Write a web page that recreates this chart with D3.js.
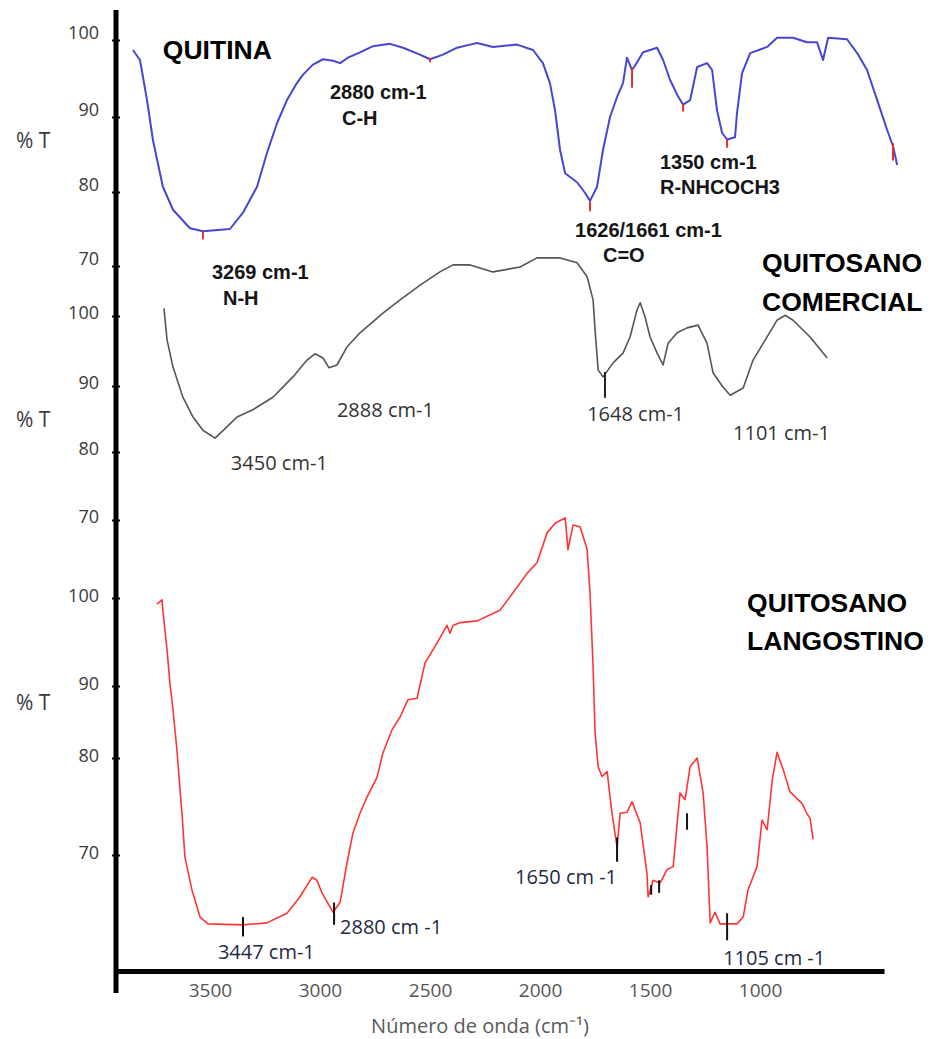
<!DOCTYPE html>
<html>
<head>
<meta charset="utf-8">
<script src="https://cdn.jsdelivr.net/npm/d3@7"></script>
<style>
  body { margin: 0; background: #fff; }
  svg { display: block; }
  .lbl { font-family: "Open Sans", sans-serif; }
  .bold { font-family: "Liberation Sans", Arial, sans-serif; font-weight: bold; }
</style>
</head>
<body>
<div id="chart"></div>
<script>
// x axis (wavenumber, cm-1)
const xTicks = [3500, 3000, 2500, 2000, 1500, 1000];
const yTicks = [100, 90, 80, 70];

// QUITINA (blue)
const quitinaWave = [3850, 3818, 3786, 3759, 3714, 3668, 3591, 3532, 3409, 3350, 3286, 3241, 3195, 3150, 3105, 3077,
  3032, 2986, 2941, 2909, 2873, 2818, 2759, 2682, 2623, 2546, 2500, 2441, 2377, 2318, 2286, 2214, 2105, 2032, 1987,
  1955, 1932, 1909, 1886, 1832, 1796, 1773, 1741, 1714, 1682, 1650, 1623, 1605, 1582, 1559, 1532, 1468, 1441, 1409,
  1377, 1350, 1318, 1286, 1241, 1218, 1196, 1173, 1150, 1114, 1105, 1082, 1045, 968, 923, 850, 787, 741, 714, 691,
  605, 559, 514, 468, 423, 396, 377];
const quitinaT = [98.7, 97.4, 92.2, 86.9, 80.7, 77.6, 75.1, 74.7, 75.0, 77.2, 80.7, 85.2, 89.2, 92.2, 94.4, 95.5,
  96.8, 97.5, 97.3, 97.0, 97.7, 98.4, 99.2, 99.5, 99.0, 98.1, 97.5, 98.1, 99.0, 99.4, 99.6, 99.1, 99.4, 98.7, 97.0,
  94.4, 90.9, 85.6, 82.5, 81.3, 79.9, 78.8, 80.7, 85.6, 90.0, 92.6, 94.4, 97.7, 96.1, 97.1, 98.4, 99.0, 97.4, 94.8,
  92.9, 91.6, 92.2, 96.5, 97.0, 96.1, 90.9, 87.9, 87.0, 87.3, 90.5, 95.7, 98.3, 99.1, 100.3, 100.3, 99.7, 99.7, 97.4, 100.3,
  100.1, 98.3, 96.1, 92.2, 88.3, 86.1, 83.6];
// red peak marks: [wavenumber, top %T, bottom %T]
const quitinaMarks = [[3532, 74.7, 73.6], [2500, 97.7, 97.1], [1773, 78.8, 77.4], [1582, 96.4, 93.8],
  [1350, 91.7, 90.7], [1150, 87.0, 85.9], [396, 86.5, 84.2]];
const quitinaLabels = [
  {text: "2880 cm-1", w: 2955, t: 93.2}, {text: "C-H", w: 2900, t: 89.9},
  {text: "3269 cm-1", w: 3491, t: 69.2}, {text: "N-H", w: 3441, t: 65.7},
  {text: "1626/1661 cm-1", w: 1841, t: 74.9}, {text: "C=O", w: 1714, t: 71.5},
  {text: "1350 cm-1", w: 1455, t: 84.0}, {text: "R-NHCOCH3", w: 1455, t: 80.7}
];

// QUITOSANO COMERCIAL (gray)
const comercialWave = [3709, 3695, 3668, 3623, 3577, 3532, 3477, 3423, 3377, 3305, 3214, 3123, 3059, 3023, 2986,
  2959, 2923, 2877, 2818, 2714, 2636, 2545, 2455, 2395, 2318, 2214, 2091, 2014, 1909, 1832, 1786, 1759, 1750, 1736,
  1714, 1668, 1623, 1591, 1559, 1545, 1523, 1500, 1468, 1441, 1418, 1377, 1332, 1282, 1241, 1214, 1168, 1136, 1077,
  1032, 986, 923, 886, 850, 773, 695];
const comercialT = [101.1, 96.6, 92.7, 88.3, 85.3, 83.3, 82.1, 83.8, 85.3, 86.4, 88.3, 91.3, 93.7, 94.6, 94.0,
  92.6, 93.0, 95.6, 97.6, 100.4, 102.3, 104.4, 106.3, 107.3, 107.3, 106.3, 107.0, 108.3, 108.3, 107.6, 105.6, 102.3, 98.0, 92.3,
  91.3, 93.3, 94.7, 97.0, 100.9, 101.9, 99.9, 97.0, 94.7, 93.0, 96.1, 97.6, 98.3, 98.7, 96.1, 91.9, 89.8, 88.6, 89.7,
  93.7, 96.1, 99.4, 100.1, 99.4, 97.0, 94.0];
const comercialMarks = [[1705, 92.0, 88.2]];
const comercialLabels = [
  {text: "3450 cm-1", w: 3405, t: 78.4}, {text: "2888 cm-1", w: 2923, t: 86.4},
  {text: "1648 cm-1", w: 1786, t: 85.8}, {text: "1101 cm-1", w: 1123, t: 82.9}
];

// QUITOSANO LANGOSTINO (red)
const langostinoWave = [3741, 3718, 3714, 3695, 3682, 3668, 3650, 3636, 3627, 3614, 3582, 3545, 3509, 3350, 3241,
  3150, 3091, 3036, 3014, 2991, 2941, 2909, 2877, 2850, 2818, 2786, 2741, 2714, 2673, 2636, 2600, 2559, 2523, 2468,
  2423, 2409, 2395, 2364, 2286, 2182, 2123, 2059, 2014, 1968, 1932, 1886, 1873, 1850, 1818, 1786, 1773, 1759, 1750,
  1736, 1718, 1695, 1682, 1673, 1650, 1636, 1605, 1582, 1545, 1514, 1509, 1486, 1455, 1423, 1395, 1364, 1341, 1318,
  1286, 1259, 1241, 1227, 1205, 1182, 1105, 1077, 1055, 1014, 991, 968, 945, 923, 895, 864, 809, 786, 773, 759];
const langostinoT = [99.3, 99.8, 98.6, 94.1, 90.3, 86.7, 81.1, 76.7, 74.3, 69.8, 66.4, 63.6, 62.9, 62.8, 63.0,
  64.0, 65.7, 67.7, 67.4, 66.1, 64.1, 65.1, 69.2, 72.3, 74.3, 76.0, 78.0, 80.7, 83.9, 85.7, 88.1, 88.3, 92.6, 94.9,
  96.9, 96.0, 96.9, 97.2, 97.4, 98.6, 100.6, 102.8, 104.0, 107.4, 108.5, 109.1, 105.5, 108.3, 108.1, 105.5, 100.6, 92.2, 83.5,
  79.1, 78.1, 78.6, 76.0, 74.3, 70.8, 74.3, 74.4, 75.5, 73.3, 68.1, 65.7, 67.4, 67.1, 68.5, 68.8, 76.4, 75.7, 79.1,
  80.0, 76.4, 70.8, 63.0, 64.1, 62.9, 62.9, 63.6, 66.4, 68.8, 73.6, 72.6, 77.7, 80.8, 78.8, 76.5, 75.3, 74.2, 73.8, 71.6];
const langostinoMarks = [[3350, 63.6, 61.6], [2936, 65.1, 62.8], [1650, 71.8, 69.3], [1150, 64.0, 61.2],
  [1495, 66.9, 65.9], [1459, 67.4, 66.1], [1332, 74.3, 72.6]];
const langostinoLabels = [
  {text: "3447 cm-1", w: 3464, t: 60.0}, {text: "2880 cm -1", w: 2909, t: 62.6},
  {text: "1650 cm -1", w: 2114, t: 67.7}, {text: "1105 cm -1", w: 1168, t: 59.4}
];

const width = 932, height = 1039;

const svg = d3.select('#chart')
    .append('svg')
    .attr('width', width)
    .attr('height', height);

const x = d3.scaleLinear().domain([3927, 437]).range([116, 884]);

// each spectrum has its own %T scale (stacked panels, uneven tick spacing as in the figure)
const panels = [
  {wave: quitinaWave, t: quitinaT, marks: quitinaMarks, labels: quitinaLabels,
   y: d3.scaleLinear().domain(yTicks).range([40, 117, 192, 266]),
   color: '#4646d2', width: 2, markColor: '#e03030', labelClass: 'bold', labelSize: 20, labelColor: '#151515',
   tickDy: -7, pctY: 141,
   title: [{text: 'QUITINA', w: 3714, t: 98.7}]},
  {wave: comercialWave, t: comercialT, marks: comercialMarks, labels: comercialLabels,
   y: d3.scaleLinear().domain(yTicks).range([316, 386, 452, 520]),
   color: '#555555', width: 1.6, markColor: '#222', labelClass: 'lbl', labelSize: 20, labelColor: '#333',
   tickDy: -3, pctY: 420,
   title: [{text: 'QUITOSANO', w: 991, t: 107.6}, {text: 'COMERCIAL', w: 991, t: 102.0}]},
  {wave: langostinoWave, t: langostinoT, marks: langostinoMarks, labels: langostinoLabels,
   y: d3.scaleLinear().domain(yTicks).range([598, 686, 758, 855]),
   color: '#ff3535', width: 1.6, markColor: '#111', labelClass: 'lbl', labelSize: 20, labelColor: '#1e2a44',
   tickDy: -2, pctY: 703,
   title: [{text: 'QUITOSANO', w: 1059, t: 99.5}, {text: 'LANGOSTINO', w: 1059, t: 95.2}]}
];

panels.forEach((p) => {
  const data = p.wave.map((w, i) => ({w: w, t: p.t[i]}));

  const line = d3.line()
      .x((d) => x(d.w))
      .y((d) => p.y(d.t));

  svg.append('path')
      .datum(data)
      .attr('fill', 'none')
      .attr('stroke', p.color)
      .attr('stroke-width', p.width)
      .attr('stroke-linejoin', 'round')
      .attr('d', line);

  svg.selectAll(null)
      .data(p.marks)
      .enter()
      .append('line')
      .attr('x1', (d) => x(d[0]))
      .attr('x2', (d) => x(d[0]))
      .attr('y1', (d) => p.y(d[1]))
      .attr('y2', (d) => p.y(d[2]))
      .attr('stroke', p.markColor)
      .attr('stroke-width', 2);

  svg.selectAll(null)
      .data(p.labels)
      .enter()
      .append('text')
      .attr('class', p.labelClass)
      .attr('x', (d) => x(d.w))
      .attr('y', (d) => p.y(d.t))
      .attr('dy', '0.35em')
      .attr('font-size', p.labelSize)
      .attr('fill', p.labelColor)
      .text((d) => d.text);

  svg.selectAll(null)
      .data(p.title)
      .enter()
      .append('text')
      .attr('class', 'bold')
      .attr('x', (d) => x(d.w))
      .attr('y', (d) => p.y(d.t))
      .attr('dy', '0.35em')
      .attr('font-size', 26.5)
      .attr('fill', '#000')
      .text((d) => d.text);

  // y axis for this panel
  const g = svg.append('g')
      .attr('class', 'axis axis--y')
      .attr('transform', 'translate(120,0)')
      .call(d3.axisLeft(p.y).tickValues(yTicks).tickSize(8).tickPadding(13));
  g.select('.domain').remove();
  g.selectAll('.tick line').attr('stroke', '#000').attr('stroke-width', 2);
  g.selectAll('.tick text')
      .attr('dy', (p.tickDy / 18 + 0.32) + 'em')
      .attr('font-family', '"Open Sans", sans-serif')
      .attr('font-size', 18)
      .attr('fill', '#3a3a3a');

  svg.append('text')
      .attr('class', 'lbl')
      .attr('x', 16)
      .attr('y', p.pctY)
      .attr('dy', '0.35em')
      .attr('font-size', 21)
      .attr('fill', '#3a3a3a')
      .text('% T');
});

// spine of the y axis
svg.append('line')
    .attr('x1', 116).attr('x2', 116)
    .attr('y1', 10).attr('y2', 993)
    .attr('stroke', '#000')
    .attr('stroke-width', 5);

// x axis
const gx = svg.append('g')
    .attr('class', 'axis axis--x')
    .attr('transform', 'translate(0,971)')
    .call(d3.axisBottom(x).tickValues(xTicks).tickFormat(d3.format('d'))
      .tickSize(0).tickSizeOuter(0).tickPadding(13));
gx.select('.domain').attr('stroke', '#000').attr('stroke-width', 5);
gx.selectAll('.tick text')
    .attr('font-family', '"Open Sans", sans-serif')
    .attr('font-size', 19)
    .attr('fill', '#555');

svg.append('text')
    .attr('class', 'lbl')
    .attr('x', 480)
    .attr('y', 1026)
    .attr('dy', '0.35em')
    .attr('text-anchor', 'middle')
    .attr('font-size', 20)
    .attr('fill', '#5a5a5a')
    .text('Número de onda (cm⁻¹)');
</script>
</body>
</html>
